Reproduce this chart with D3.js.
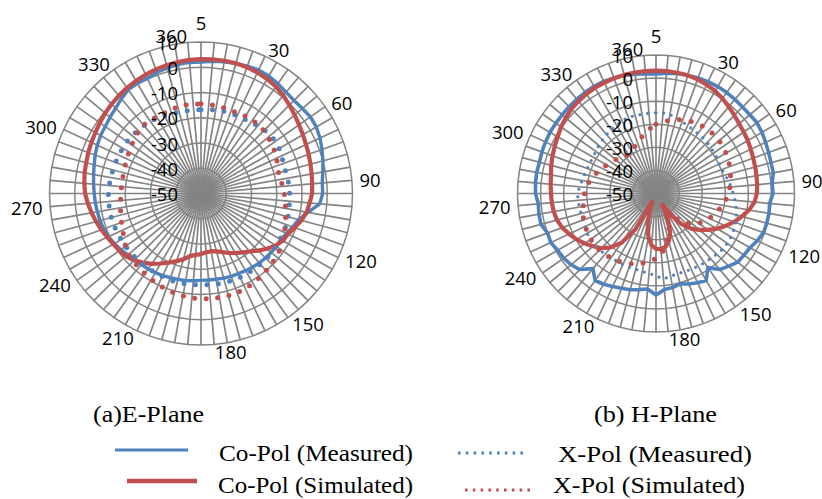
<!DOCTYPE html>
<html><head><meta charset="utf-8">
<script src="https://cdn.jsdelivr.net/npm/d3@7"></script>
<style>html,body{margin:0;padding:0;background:#fff;}</style>
</head><body>
<svg id="c" width="822" height="499"></svg>
<script>
// categories 5..360 step 5 (first category drawn at the top)
const categories = d3.range(5, 361, 5);
const shownCategoryLabels = [5, 30, 60, 90, 120, 150, 180, 210, 240, 270, 300, 330, 360];
const radialTicks = [-50, -40, -30, -20, -10, 0, 10];
const radialDomain = [-50, 10];

// ---- (a) E-Plane ----
const eCoMeasured = [2.1,2.6,3,3.3,3.7,4,3.7,3.1,2.4,2.1,2.4,2.9,2.7,2,1,0,-1,-1.8,-1.8,-2.8,-7,-10,-11.3,-12.6,-13.5,-13.6,-13.7,-13.9,-14.1,-14.4,-14.7,-15,-15.1,-15.3,-15.5,-15.6,-15.6,-15.3,-15,-14.8,-14.5,-14.1,-13.8,-13.5,-13.3,-12.8,-12.2,-11.2,-10.4,-9.6,-9,-8.6,-8.3,-8,-7.7,-7.3,-6.8,-6.2,-5.4,-4.7,-4.1,-3.7,-3,-2.2,-1,0.2,0.5,0.3,1,1.5,1.9,2.1];
const eCoSimulated = [3.2,3.3,3.4,3.4,3.2,2.9,2.4,1.7,0.7,-0.5,-1.6,-2.6,-3.4,-4.1,-4.6,-5.1,-5.5,-5.8,-6,-6.8,-7.5,-8.8,-10.5,-12,-12.6,-14,-16,-18,-20,-21.5,-22.7,-24,-25.3,-26.3,-26.8,-26.6,-26,-25.6,-24.8,-23,-21.5,-19.8,-18,-16,-14.3,-12.6,-11.3,-10.5,-9.9,-9,-8,-7,-6,-5,-4.1,-3.6,-3.2,-2.9,-2.5,-2.1,-1.7,-1.1,-0.5,0.1,0.6,1.1,1.5,1.9,2.3,2.6,2.9,3.1];
const eXMeasured = [-16.8,-16.6,-16.4,-16.2,-16,-16,-15.9,-15.5,-15,-14.5,-14,-14.1,-14.3,-14.8,-15.2,-15.4,-15.1,-15,-14.9,-14.8,-14.6,-14.3,-14,-13.9,-13.8,-13.6,-13.5,-13.4,-13.4,-13.4,-13.4,-13.4,-13.4,-13.5,-13.6,-13.7,-13.8,-13.8,-13.7,-13.6,-13.6,-13.7,-13.7,-13.8,-13.8,-13.7,-13.6,-13.5,-13.5,-13.4,-13.3,-13.2,-13.2,-13.3,-13.3,-13.5,-13.7,-13.9,-14,-14.1,-14.2,-14.2,-14.4,-14.6,-14.9,-15.2,-15.4,-15.9,-16.3,-16.6,-16.8,-16.8];
const eXSimulated = [-14.5,-14.5,-14.7,-14.9,-15,-14.9,-14.7,-14.5,-14.5,-14.8,-15.3,-15.8,-16.3,-17,-17.6,-18.2,-18,-17.5,-17,-16.5,-16,-15.3,-14.5,-13.5,-12.5,-11.7,-11,-10.5,-10,-9.4,-8.9,-8.5,-8.2,-8.1,-8.1,-8.2,-8.3,-8.5,-8.8,-9.2,-9.6,-10.1,-10.7,-11.2,-11.7,-12.1,-12.5,-13.5,-14.8,-15.8,-16.5,-17.1,-17.6,-18,-18.3,-18.4,-18.4,-18.3,-18,-17.6,-17.1,-16.5,-15.8,-15,-14.6,-14.7,-14.9,-14.9,-14.7,-14.5,-14.4,-14.4];

// ---- (b) H-Plane ----
const hCoMeasured = [1.8,2.3,2.8,3,3.3,3.5,3.5,3.4,3.2,3,3.1,3.4,3,2.4,1.9,1.6,1.6,0.5,0.7,-0.6,-0.3,-0.3,-0.5,-1.6,-3,-3.5,-3.7,-5.5,-7,-10.8,-6.5,-7.3,-8.3,-9.5,-8.6,-8.2,-6,-8.5,-7.7,-6.8,-6.3,-5.5,-4.6,-4,-7.5,-3.4,-2,-1.2,-0.8,0.3,0,1.6,1.5,1.2,2.2,2.4,2.5,2.3,2.6,2.8,3,3,3.1,3.2,3.3,3.5,3.6,3.6,3.3,2.9,2.5,2.1];
const hCoSimulated = [3.2,3.2,3.1,3,2.6,2,1.3,0.2,-1,-2,-3,-3.6,-4.1,-4.7,-5.2,-5.5,-5.8,-6,-6.3,-7.2,-9,-11.5,-14,-16.8,-19.5,-22.5,-25.5,-28.5,-32.5,-38,-44,-38,-32,-28.5,-26.5,-25.8,-26,-27.5,-31,-36,-42,-46,-32,-24,-19.5,-16.5,-14.4,-12.3,-10.2,-8.5,-6.8,-5.6,-5,-4.7,-4.5,-4.2,-3.8,-3,-2.3,-1.6,-0.8,0.2,1,1.8,2.2,2.6,2.9,3,3.1,3.2,3.2,3.2];
const hXMeasured = [-15,-14.9,-15.3,-16,-16.8,-17.6,-18,-18.3,-18.4,-18.7,-19,-19.2,-19.5,-19.7,-19.6,-19,-18.2,-17.3,-16.5,-15.6,-14.8,-14,-13.3,-12.8,-12.5,-12.3,-12.4,-12.8,-13.2,-13.4,-13.6,-13.8,-14,-14,-13.6,-12.8,-14.3,-15.3,-15.7,-16,-16,-16,-16.1,-16.2,-15.8,-15.3,-15,-15.2,-15.6,-16,-16.3,-16.4,-16.3,-16.1,-16,-16.8,-17.5,-18,-18.3,-18.5,-18.5,-18.2,-17.7,-17.2,-16.7,-16.2,-15.8,-15.2,-14.9,-15,-15.2,-15.1];
const hXSimulated = [-20,-19,-17.8,-17,-16,-15.4,-14.9,-14.5,-14.3,-14.2,-14.3,-14.5,-15,-15.4,-16,-16.6,-17.2,-17.9,-18.7,-19.6,-20.7,-22,-23.3,-24.5,-25.8,-27.5,-29.5,-32,-35.5,-40,-45,-38,-33.5,-30.5,-26.8,-23.5,-21.8,-20.5,-19.5,-18.3,-17.6,-16.9,-16.4,-16,-15.6,-15.3,-15.3,-15.5,-15.8,-16.2,-16.6,-17.3,-18,-18.5,-19,-19.8,-20.6,-21.8,-23,-24.3,-25.3,-26.3,-27.2,-28.3,-29.3,-29,-28.3,-27.8,-26.5,-25,-23.2,-21.7];

const seriesNames = ["Co-Pol (Measured)", "Co-Pol (Simulated)", "X-Pol (Measured)", "X-Pol (Simulated)"];
const planeTitles = ["(a)E-Plane", "(b) H-Plane"];

const BLUE = "#4F81BD", RED = "#C0504D", GRID = "#848484";
const svg = d3.select("#c");

const charts = [
  {cx: 201, cy: 193.5, R: 151.5, data: [eCoMeasured, eCoSimulated, eXMeasured, eXSimulated],
   styles: [{c: BLUE, w: 3.4}, {c: RED, w: 4.2}, {c: BLUE, w: 5, dash: "0 11.5"}, {c: RED, w: 5, dash: "0 11.5"}]},
  {cx: 656, cy: 193.5, R: 138.5, data: [hCoMeasured, hCoSimulated, hXMeasured, hXSimulated],
   styles: [{c: BLUE, w: 3.6}, {c: RED, w: 4.2}, {c: BLUE, w: 3.2, dash: "0 7.8"}, {c: RED, w: 5, dash: "0 12"}]}
];

const angle = d3.scaleLinear().domain([0, categories.length]).range([0, 2 * Math.PI]);

charts.forEach(ch => {
  const r = d3.scaleLinear().domain(radialDomain).range([0, ch.R]);
  const g = svg.append("g").attr("transform", `translate(${ch.cx},${ch.cy})`);
  const idx = d3.range(categories.length);

  // ring gridlines (polygons through every category)
  radialTicks.filter(t => t > radialDomain[0]).forEach(t => {
    g.append("path")
      .attr("d", d3.lineRadial().angle(i => angle(i)).radius(() => r(t)).curve(d3.curveLinearClosed)(idx))
      .attr("fill", "none").attr("stroke", GRID).attr("stroke-width", 1.5);
  });
  // spokes
  g.selectAll("line.spoke").data(idx).enter().append("line")
    .attr("x1", 0).attr("y1", 0)
    .attr("x2", i => r(radialDomain[1]) * Math.sin(angle(i)))
    .attr("y2", i => -r(radialDomain[1]) * Math.cos(angle(i)))
    .attr("stroke", GRID).attr("stroke-width", 1.7);

  // series
  ch.data.forEach((vals, s) => {
    const st = ch.styles[s];
    const line = d3.lineRadial().angle((d, i) => angle(i)).radius(d => r(d)).curve(d3.curveLinearClosed);
    const p = g.append("path").attr("d", line(vals))
      .attr("fill", "none").attr("stroke", st.c).attr("stroke-width", st.w)
      .attr("stroke-linejoin", "round");
    if (st.dash) p.attr("stroke-dasharray", st.dash).attr("stroke-linecap", "round");
  });

  // radial tick labels
  g.selectAll("text.rt").data(radialTicks).enter().append("text")
    .attr("x", -23).attr("y", d => -r(d))
    .attr("text-anchor", "end").attr("dominant-baseline", "central")
    .attr("font-family", "'Open Sans', sans-serif").attr("font-size", 18.5).attr("fill", "#000")
    .text(d => d);

  // category labels
  const lr = ch.R + 7.5;
  idx.filter(i => shownCategoryLabels.includes(categories[i])).forEach(i => {
    const a = angle(i), sx = Math.sin(a), x = lr * sx, y = -lr * Math.cos(a);
    const t = g.append("text").attr("font-family", "'Open Sans', sans-serif")
      .attr("font-size", 18.5).attr("fill", "#000").text(categories[i]);
    if (Math.abs(sx) < 0.01) {
      t.attr("x", x).attr("y", y - 5).attr("text-anchor", "middle");
    } else {
      t.attr("x", x).attr("y", y).attr("text-anchor", sx > 0 ? "start" : "end").attr("dominant-baseline", "central");
    }
  });
});

// titles and legend
const serif = "'Liberation Serif', 'Times New Roman', serif";
const titlePos = [{x: 93, y: 422, L: 111}, {x: 594, y: 422, L: 123}];
planeTitles.forEach((t, k) => {
  svg.append("text").attr("x", titlePos[k].x).attr("y", titlePos[k].y)
    .attr("font-family", serif).attr("font-size", 24)
    .attr("textLength", titlePos[k].L).attr("lengthAdjust", "spacingAndGlyphs").text(t);
});
const legendItems = [
  {sx1: 115, sx2: 188, sy: 450, c: BLUE, w: 3, tx: 219, ty: 461, L: 194},
  {sx1: 127, sx2: 197, sy: 481, c: RED, w: 4.5, tx: 218, ty: 493, L: 195},
  {sx1: 458, sx2: 528, sy: 453, c: BLUE, w: 3, dash: "2.6 5.2", tx: 558, ty: 462, L: 194},
  {sx1: 465, sx2: 533, sy: 490, c: RED, w: 3, dash: "2.6 5.2", tx: 553, ty: 493, L: 192}
];
legendItems.forEach((it, k) => {
  const l = svg.append("line").attr("x1", it.sx1).attr("x2", it.sx2).attr("y1", it.sy).attr("y2", it.sy)
    .attr("stroke", it.c).attr("stroke-width", it.w);
  if (it.dash) l.attr("stroke-dasharray", it.dash);
  svg.append("text").attr("x", it.tx).attr("y", it.ty)
    .attr("font-family", serif).attr("font-size", 24)
    .attr("textLength", it.L).attr("lengthAdjust", "spacingAndGlyphs").text(seriesNames[k]);
});
</script>
</body></html>
